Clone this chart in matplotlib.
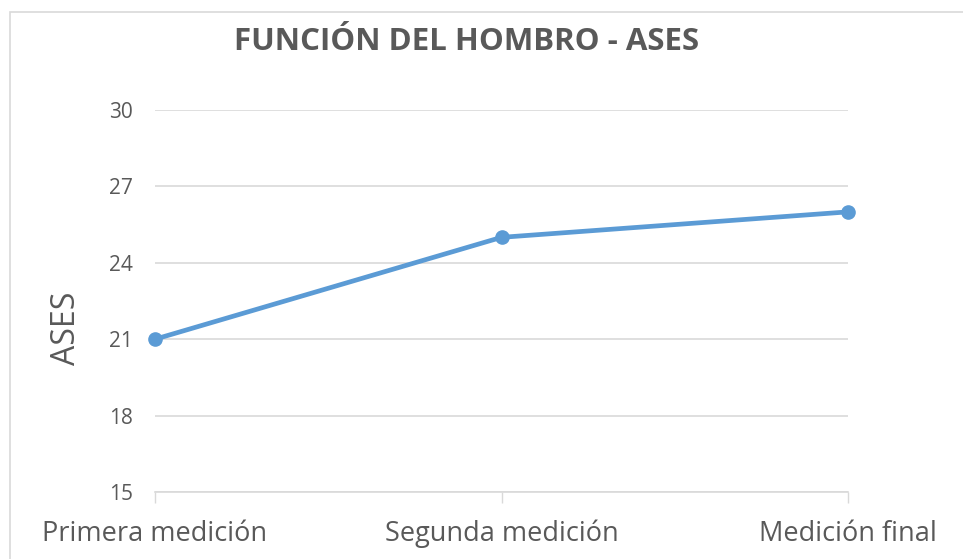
import matplotlib.pyplot as plt
from matplotlib.patches import Rectangle

# data
mediciones = ['Primera medición', 'Segunda medición', 'Medición final']
ases = [21, 25, 26]
yticks = [15, 18, 21, 24, 27, 30]

plt.rcParams['font.family'] = ['Open Sans', 'DejaVu Sans']
txt = '#595959'
grid = '#D9D9D9'

fig = plt.figure(figsize=(9.63, 5.59), dpi=100)
ax = fig.add_axes([155/963, 67/559, 693/963, 382/559])

x = list(range(len(mediciones)))
ax.plot(x, ases, color='#5B9BD5', lw=3.4, marker='o', markersize=9.5, zorder=3,
        clip_on=False)

ax.set_xlim(0, len(mediciones) - 1)
ax.set_ylim(15, 30)
ax.set_yticks(yticks)
ax.set_yticklabels([str(v) for v in yticks], fontsize=15, color=txt)
ax.set_xticks(x)
ax.set_xticklabels(mediciones, fontsize=19.5, color=txt)
ax.tick_params(axis='y', length=0, pad=16)
ax.tick_params(axis='x', length=8, width=1, color=grid, pad=12, direction='out')

ax.grid(axis='y', color=grid, lw=1.2)
for s in ['top', 'right', 'left']:
    ax.spines[s].set_visible(False)
ax.spines['bottom'].set_color(grid)
ax.spines['bottom'].set_linewidth(1.2)

ax.set_ylabel('ASES', fontsize=23, color=txt, va='center')
ax.yaxis.set_label_coords(-0.127, 0.429)

fig.text(467/963, 1 - 42/559, 'FUNCIÓN DEL HOMBRO - ASES', fontsize=22.5,
         fontweight='bold', color=txt, ha='center', va='center')

# chart area border
fig.patches.append(Rectangle((10/963, -0.05), 1.1, 1 - 12/559 + 0.05,
                             transform=fig.transFigure, fill=False,
                             edgecolor=grid, lw=1.2))

fig.savefig('out.png', dpi=100)
